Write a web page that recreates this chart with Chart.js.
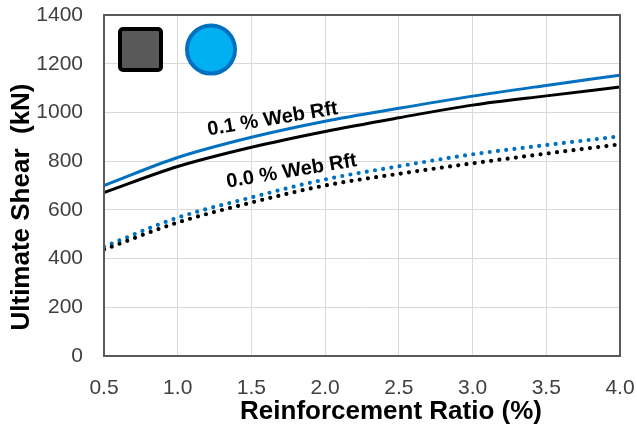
<!DOCTYPE html>
<html>
<head>
<meta charset="utf-8">
<script src="https://cdn.jsdelivr.net/npm/chart.js@4.4.1/dist/chart.umd.min.js"></script>
<style>
  html, body { margin: 0; padding: 0; background: #ffffff; }
  #wrap { width: 637px; height: 437px; position: relative; }
</style>
</head>
<body>
<div id="wrap"><canvas id="c" width="637" height="437"></canvas></div>
<script>
// Reinforcement ratio (%) at which each curve is sampled
const ratio = [0.5, 1.0, 1.5, 2.0, 2.5, 3.0, 3.5, 4.0];

// Ultimate shear (kN)
const web01Circle = [700, 815, 898, 964, 1017, 1067, 1111, 1153];
const web01Square = [671, 778, 857, 922, 978, 1030, 1068, 1104];
const web00Circle = [449, 568, 651, 725, 779, 828, 866, 902];
const web00Square = [437, 548, 630, 700, 748, 791, 831, 869];

// Axis ranges and ticks
const xTicks = [0.5, 1.0, 1.5, 2.0, 2.5, 3.0, 3.5, 4.0];
const yTicks = [0, 200, 400, 600, 800, 1000, 1200, 1400];

// Curve labels, anchored in data units
const curveLabels = [
  { text: '0.1 % Web Rft', x: 1.644, y: 972 },
  { text: '0.0 % Web Rft', x: 1.773, y: 758 }
];

const xTitle = 'Reinforcement Ratio (%)';
const yTitle = 'Ultimate Shear  (kN)';

const FONT = '"Liberation Sans", Arial, sans-serif';

function pts(vals) { return ratio.map((r, i) => ({ x: r, y: vals[i] })); }

const solid = (color, vals) => ({
  data: pts(vals), borderColor: color, borderWidth: 3,
  pointRadius: 0, fill: false, cubicInterpolationMode: 'monotone'
});
const dotted = (color, vals) => ({
  data: pts(vals), borderColor: color, borderWidth: 4.2,
  borderDash: [0, 8.3], borderCapStyle: 'round',
  pointRadius: 0, fill: false, cubicInterpolationMode: 'monotone'
});

// Frame, section icons, curve labels and axis titles
const decor = {
  id: 'decor',
  afterDatasetsDraw(chart) {
    const { ctx, chartArea: a, scales } = chart;
    ctx.save();
    ctx.strokeStyle = '#595959';
    ctx.lineWidth = 2;
    ctx.strokeRect(a.left, a.top, a.right - a.left, a.bottom - a.top);

    // square section icon
    ctx.beginPath();
    ctx.roundRect(a.left + 16, a.top + 14, 41, 41, 3);
    ctx.fillStyle = '#595959';
    ctx.fill();
    ctx.lineWidth = 4;
    ctx.strokeStyle = '#000000';
    ctx.stroke();

    // circular section icon
    ctx.beginPath();
    ctx.arc(a.left + 107, a.top + 34.5, 24, 0, Math.PI * 2);
    ctx.fillStyle = '#00B0F0';
    ctx.fill();
    ctx.lineWidth = 4;
    ctx.strokeStyle = '#0070C0';
    ctx.stroke();

    // curve labels
    ctx.fillStyle = '#000000';
    ctx.font = 'bold 20px ' + FONT;
    ctx.textAlign = 'center';
    ctx.textBaseline = 'middle';
    curveLabels.forEach(l => {
      const px = scales.x.getPixelForValue(l.x);
      const py = scales.y.getPixelForValue(l.y);
      ctx.save();
      ctx.translate(px, py);
      ctx.rotate(-9.5 * Math.PI / 180);
      ctx.fillText(l.text, 0, 0);
      ctx.restore();
    });

    // axis titles
    ctx.font = 'bold 26px ' + FONT;
    ctx.textBaseline = 'alphabetic';
    ctx.fillText(xTitle, 391, 419, 303);
    ctx.save();
    ctx.translate(29, 207);
    ctx.rotate(-Math.PI / 2);
    ctx.fillText(yTitle, 0, 0, 261);
    ctx.restore();
    ctx.restore();
  }
};

new Chart(document.getElementById('c'), {
  type: 'line',
  data: {
    datasets: [
      solid('#000000', web01Square),
      solid('#0070C0', web01Circle),
      dotted('#000000', web00Square),
      dotted('#0070C0', web00Circle)
    ]
  },
  options: {
    responsive: false,
    animation: false,
    devicePixelRatio: 1,
    layout: { padding: { top: 15, right: 17, left: 0, bottom: 0 } },
    plugins: { legend: { display: false }, tooltip: { enabled: false } },
    scales: {
      x: {
        type: 'linear',
        min: xTicks[0], max: xTicks[xTicks.length - 1],
        afterBuildTicks: s => { s.ticks = xTicks.map(v => ({ value: v })); },
        afterFit: s => { s.height = 81; s.paddingLeft = 0; s.paddingRight = 0; },
        grid: { color: '#d9d9d9', lineWidth: 1, drawTicks: false },
        border: { display: true, color: '#595959', width: 2 },
        ticks: {
          padding: 20, color: '#404040',
          font: { family: FONT, size: 21 },
          callback: v => Number(v).toFixed(1),
          maxRotation: 0, autoSkip: false
        }
      },
      y: {
        type: 'linear',
        min: yTicks[0], max: yTicks[yTicks.length - 1],
        afterBuildTicks: s => { s.ticks = yTicks.map(v => ({ value: v })); },
        afterFit: s => { s.width = 104; s.paddingTop = 0; s.paddingBottom = 0; },
        grid: { color: '#d9d9d9', lineWidth: 1, drawTicks: false },
        border: { display: true, color: '#595959', width: 2 },
        ticks: {
          padding: 21, color: '#404040',
          font: { family: FONT, size: 21 },
          callback: v => String(v)
        }
      }
    }
  },
  plugins: [decor]
});
</script>
</body>
</html>
